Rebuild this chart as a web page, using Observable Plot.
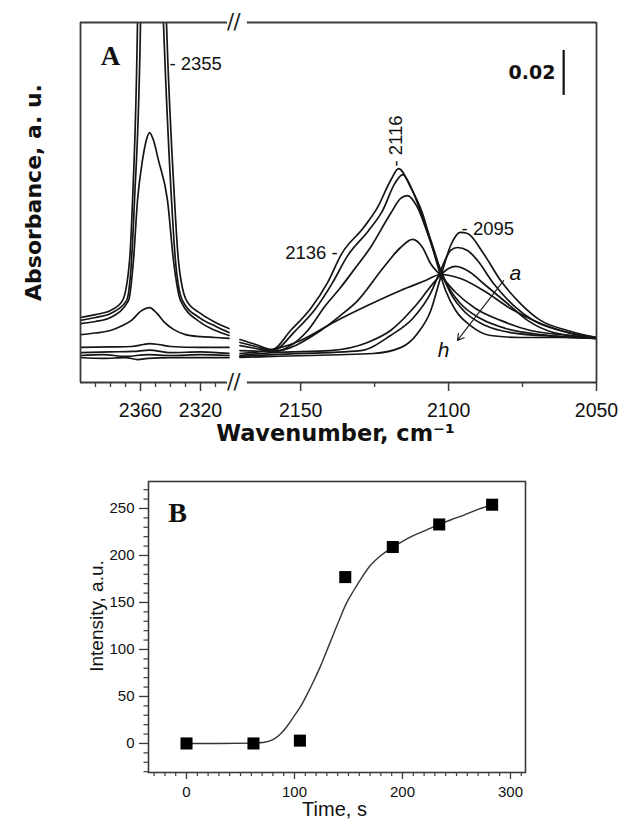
<!DOCTYPE html>
<html><head><meta charset="utf-8">
<script src="https://cdn.jsdelivr.net/npm/d3@7"></script>
<script src="https://cdn.jsdelivr.net/npm/@observablehq/plot@0.6"></script>
<style>
html,body{margin:0;padding:0;background:#fff;}
#chart{width:620px;height:828px;overflow:hidden;background:#fff;}
#chart svg{display:block;}
</style></head><body><div id="chart"></div>
<script>
// ---------- Panel A: IR spectra a..h, wavenumber (cm-1) vs absorbance (milli a.u.) ----------
const curveNames = ["a","b","c","d","e","f","g","h"];
// CO2 region (left part of the broken axis)
const co2_a = [[2400,-0.9],[2385,-1.3],[2370,-0.9],[2362,-1.8],[2355,-1.3],[2340,-0.9],[2320,-0.9],[2301,-0.9]];
const co2_b = [[2400,0],[2385,0.4],[2370,-0.4],[2355,0.4],[2340,0],[2320,0.4],[2301,0]];
const co2_c = [[2400,1.3],[2380,1.6],[2365,1.8],[2354,2.4],[2340,1.3],[2320,1.6],[2301,0.9]];
const co2_d = [[2400,3.6],[2380,3.8],[2366,4],[2358,4.9],[2354,5.3],[2348,4.9],[2340,4],[2320,3.6],[2301,3.6]];
const co2_e = [[2400,9.3],[2390,10],[2380,11.1],[2372,13.3],[2366,15.6],[2360,19.6],[2354,21.3],[2349,18.7],[2344,14.7],[2338,11.6],[2330,9.3],[2320,8.4],[2310,8],[2301,7.6]];
const co2_f = [[2400,14.2],[2390,15.1],[2380,16.9],[2368,24.4],[2364.7,42.2],[2362,68.9],[2358.7,86.7],[2356,96],[2354,99.1],[2351.5,96],[2348,86.7],[2342,68.9],[2338,42.2],[2333.3,24.4],[2320,14.7],[2310,11.1],[2301,8.9]];
const co2_g = [[2400,15.6],[2390,16.9],[2380,18.7],[2369.3,24.4],[2366,42.2],[2364,68.9],[2360,148],[2358.5,250],[2354,380],[2349.5,250],[2344.7,148],[2339.3,68.9],[2336.7,42.2],[2332,24.4],[2320,16.5],[2310,13],[2301,10.2]];
const co2_h = [[2400,16.9],[2390,18.2],[2380,20],[2372,24.4],[2367.3,42.2],[2365.3,68.9],[2362,148],[2360,260],[2354,420],[2347,260],[2342.7,148],[2337.3,68.9],[2334.7,42.2],[2329.3,24.4],[2320,18.7],[2310,14.7],[2301,12]];
// CO region (right part of the broken axis)
const co_a = [[2170.5,-0.9],[2159.5,-0.4],[2125.5,0.9],[2116,3.6],[2110.5,9.8],[2106,20],[2102.7,34.7],[2099.3,48.9],[2096,54.7],[2093.6,54.2],[2088.2,45.3],[2082.4,33.3],[2075.7,23.1],[2068.9,15.6],[2059.8,11.1],[2050,8]];
const co_b = [[2170.5,-0.4],[2159.5,0.4],[2129.7,2.2],[2119.6,8.9],[2111.8,16.9],[2106.1,27.6],[2102.7,37.8],[2099.3,46.7],[2097,48],[2093.6,46.7],[2090.2,42.2],[2084.8,32],[2078,22.2],[2071.3,15.6],[2062.2,11.1],[2050,8]];
const co_c = [[2170.5,0],[2159.5,1.3],[2139.9,2.2],[2127.4,5.8],[2119.6,11.1],[2111.1,22.2],[2104.4,33.3],[2100,38.7],[2097.6,39.6],[2092.6,36.9],[2088.2,32],[2080.1,23.1],[2073.3,15.6],[2064.5,10.2],[2050,7.6]];
const co_d = [[2170.5,0.9],[2157.8,3.1],[2150,6.7],[2138.9,14.7],[2127.4,22.2],[2116.2,28.9],[2107.8,33.3],[2102.7,36],[2096,34.2],[2088.2,28.9],[2079.1,20.9],[2068.9,14.2],[2058.8,9.8],[2050,7.6]];
const co_e = [[2170.5,2.2],[2159.5,1.8],[2143.2,11.1],[2136.5,17.8],[2130.7,24.4],[2122,39.1],[2116.2,48],[2112.2,51.6],[2108.8,48],[2106.1,40.9],[2102.7,35.6],[2097.6,28],[2090.9,20.9],[2082.4,15.6],[2072.3,11.1],[2058.8,8.9],[2050,7.6]];
const co_f = [[2170.5,4.4],[2165.2,3.1],[2159.5,1.8],[2147.6,11.1],[2141.6,22.2],[2136.5,30.2],[2131.4,39.1],[2126.4,48],[2119.6,63.1],[2116.2,69.8],[2113.9,71.1],[2110.5,65.8],[2107.1,54.2],[2103.7,41.3],[2100.3,31.1],[2096,23.1],[2089.2,16.4],[2080.7,12],[2068.9,9.3],[2050,7.6]];
const co_g = [[2170.5,5.8],[2165.2,4],[2159.5,2.2],[2151.7,11.1],[2144.9,20.9],[2139.2,32.4],[2134.1,44.4],[2127,55.6],[2122.3,64.4],[2118.2,76.4],[2115.5,80.4],[2112.2,73.3],[2108.4,60],[2105.4,48.9],[2102.7,37.8],[2099.3,27.6],[2094.3,19.1],[2087.5,13.3],[2079.1,10.2],[2062.2,8.4],[2050,7.6]];
const co_h = [[2170.5,7.1],[2165.2,4.9],[2159.5,2.7],[2153.4,11.1],[2146.6,20.9],[2140.9,32.4],[2136.1,45.3],[2128.7,56.9],[2124,65.8],[2119.6,77.8],[2116.9,83.1],[2112.8,74.7],[2108.8,63.1],[2106.1,51.1],[2103.7,40],[2101,28.9],[2097.6,20],[2092.6,13.3],[2085.8,8.9],[2075.7,8],[2062.2,8],[2050,7.6]];

// broken wavenumber axis: two segments
const segLeft = [2400, 2300];
const segRight = [2171, 2050];
const absDomain = [-12, 148];
const waveMajorTicks = [2360, 2320, 2150, 2100, 2050];
const waveMinorTicks = [2390, 2380, 2370, 2350, 2340, 2330, 2310, 2125, 2075];

// annotations (wavenumber, absorbance)
const peakLabelsStart = [{w: 2340.7, A: 129.3, text: "- 2355"}, {w: 2095.6, A: 56, text: "- 2095"}];
const peakLabelsEnd = [{w: 2137.5, A: 45.3, text: "2136 -"}];
const peakLabelsVertical = [{w: 2117.6, A: 84, text: "- 2116"}];
const seriesLetters = [{w: 2077.4, A: 36.4, text: "a"}, {w: 2101.7, A: 2.2, text: "h"}];
const seriesArrow = [{w1: 2081.4, A1: 33.3, w2: 2097, A2: 6.7}];
const scaleBar = [{w: 2061.1, A1: 115.6, A2: 135.6, label: "0.02"}];

// ---------- Panel B: intensity vs time ----------
const timeS = [0, 62, 105, 147, 191, 234, 283];
const intensity = [0, 0, 3, 177, 209, 233, 254];
const fitTime = [0, 30, 60, 71, 80, 87, 93, 99, 106, 112, 118, 124, 130, 136, 142, 148, 155, 162, 170, 180, 190, 200, 210, 222, 234, 245, 257, 270, 283];
const fitIntensity = [0, 0, 0.3, 1, 4, 10, 18, 28, 40, 53, 67, 82, 99, 116, 133, 149, 163, 176, 189, 200, 208, 215, 221, 227, 233, 238, 243, 249, 254];
const timeTicks = [0, 100, 200, 300];
const intensityTicks = [0, 50, 100, 150, 200, 250];

// ---------- build tables ----------
const co2 = {a: co2_a, b: co2_b, c: co2_c, d: co2_d, e: co2_e, f: co2_f, g: co2_g, h: co2_h};
const co = {a: co_a, b: co_b, c: co_c, d: co_d, e: co_e, f: co_f, g: co_g, h: co_h};
const specRows = [];
for (const n of curveNames) {
  for (const [w, A] of co2[n]) specRows.push({w, A, key: n + "-CO2"});
  for (const [w, A] of co[n]) specRows.push({w, A, key: n + "-CO"});
}
const frameColor = "#3a3a3a";
const hFrame = [
  {y: absDomain[1], x1: segLeft[0], x2: 2302}, {y: absDomain[1], x1: 2168, x2: segRight[1]},
  {y: absDomain[0], x1: segLeft[0], x2: 2302}, {y: absDomain[0], x1: 2168, x2: segRight[1]}
];
const vFrame = [{x: segLeft[0]}, {x: segRight[1]}];
const breakSlashes = [
  {w: 2300, A: absDomain[1]}, {w: 2195, A: absDomain[1]},
  {w: 2300, A: absDomain[0]}, {w: 2195, A: absDomain[0]}
];

const sans = "'Liberation Sans', Arial, Helvetica, sans-serif";
const wide = "'DejaVu Sans', Verdana, sans-serif";
const serif = "'Liberation Serif', 'Times New Roman', serif";

const plotA = Plot.plot({
  width: 620, height: 455,
  marginLeft: 80, marginRight: 24, marginTop: 22, marginBottom: 73,
  style: {fontFamily: sans, background: "#fff", color: "#111", overflow: "visible"},
  x: {type: "linear", domain: [segLeft[0], segLeft[1], segRight[0], segRight[1]], range: [80, 230, 238, 596], label: null},
  y: {domain: absDomain, axis: null, label: null},
  marks: [
    Plot.line(specRows, {x: "w", y: "A", z: "key", stroke: "#151515", strokeWidth: 1.7, curve: "monotone-x", clip: true}),
    Plot.ruleY(hFrame, {y: "y", x1: "x1", x2: "x2", stroke: frameColor, strokeWidth: 1.8}),
    Plot.ruleX(vFrame, {x: "x", y1: absDomain[0], y2: absDomain[1], stroke: frameColor, strokeWidth: 1.8}),
    Plot.text(breakSlashes, {x: "w", y: "A", text: () => "/", fontSize: 21, fontFamily: wide, fill: "#222"}),
    Plot.axisX(waveMajorTicks, {tickSize: 9, tickPadding: 12, fontSize: 19.5, stroke: frameColor, strokeWidth: 1.5, tickFormat: d => String(d), label: null}),
    Plot.axisX(waveMinorTicks, {tickSize: 5, stroke: frameColor, strokeWidth: 1.3, tickFormat: () => "", label: null}),
    Plot.text(peakLabelsStart, {x: "w", y: "A", text: "text", textAnchor: "start", fontSize: 18.5, fill: "#111"}),
    Plot.text(peakLabelsEnd, {x: "w", y: "A", text: "text", textAnchor: "end", fontSize: 18.5, fill: "#111"}),
    Plot.text(peakLabelsVertical, {x: "w", y: "A", text: "text", textAnchor: "start", rotate: -90, fontSize: 18.5, fill: "#111"}),
    Plot.text(seriesLetters, {x: "w", y: "A", text: "text", fontSize: 21, fontStyle: "italic", fill: "#111"}),
    Plot.arrow(seriesArrow, {x1: "w1", y1: "A1", x2: "w2", y2: "A2", stroke: "#222", strokeWidth: 1.2, headLength: 9}),
    Plot.ruleX(scaleBar, {x: "w", y1: "A1", y2: "A2", stroke: "#111", strokeWidth: 2.2}),
    Plot.text(scaleBar, {x: d => d.w + 2.8, y: d => (d.A1 + d.A2) / 2, text: "label", textAnchor: "end", fontSize: 19, fontWeight: "bold", fontFamily: wide, fill: "#111"}),
    Plot.text(["A"], {x: 2380, y: 133, text: d => d, fontSize: 27, fontWeight: "bold", fontFamily: serif, fill: "#111"}),
    Plot.text(["Absorbance, a. u."], {frameAnchor: "left", textAnchor: "middle", dx: -47, dy: -10, rotate: -90, fontSize: 22, fontWeight: "bold", fontFamily: wide, fill: "#111"}),
    Plot.text(["Wavenumber, cm⁻¹"], {frameAnchor: "bottom", textAnchor: "middle", dx: -3, dy: 58, fontSize: 22.5, fontWeight: "bold", fontFamily: wide, fill: "#111"})
  ]
});

const points = timeS.map((t, i) => ({t, I: intensity[i]}));
const fit = fitTime.map((t, i) => ({t, I: fitIntensity[i]}));
const timeMinor = d3.range(-30, 311, 10).filter(d => !timeTicks.includes(d));
const intensityMinor = d3.range(-30, 271, 10).filter(d => !intensityTicks.includes(d));

const plotB = Plot.plot({
  width: 620, height: 373,
  marginLeft: 148, marginRight: 95, marginTop: 26, marginBottom: 56,
  style: {fontFamily: sans, background: "#fff", color: "#111", overflow: "visible"},
  x: {domain: [-35.2, 313.9], label: null},
  y: {domain: [-30.9, 278.7], label: null},
  marks: [
    Plot.frame({stroke: frameColor, strokeWidth: 1.6}),
    Plot.axisY(intensityTicks, {tickSize: 9, tickPadding: 5, fontSize: 15, stroke: frameColor, strokeWidth: 1.3, tickFormat: d => String(d), label: null}),
    Plot.axisY(intensityMinor, {tickSize: 4.5, stroke: frameColor, strokeWidth: 1.2, tickFormat: () => "", label: null}),
    Plot.axisX(timeTicks, {tickSize: 7, tickPadding: 7, fontSize: 15, stroke: frameColor, strokeWidth: 1.3, tickFormat: d => String(d), label: null}),
    Plot.axisX(timeMinor, {tickSize: 4, stroke: frameColor, strokeWidth: 1.2, tickFormat: () => "", label: null}),
    Plot.line(fit, {x: "t", y: "I", stroke: "#333", strokeWidth: 1.4, curve: "monotone-x"}),
    Plot.dot(points, {x: "t", y: "I", symbol: "square", r: 6.8, fill: "#000", stroke: "none"}),
    Plot.text(["B"], {x: -8.3, y: 244.7, text: d => d, fontSize: 28, fontWeight: "bold", fontFamily: serif, fill: "#111"}),
    Plot.text(["Intensity, a.u."], {frameAnchor: "left", textAnchor: "middle", dx: -52, dy: -11, rotate: -90, fontSize: 19, fill: "#111"}),
    Plot.text(["Time, s"], {frameAnchor: "bottom", textAnchor: "middle", dx: -2.5, dy: 43, fontSize: 20, fill: "#111"})
  ]
});

const root = document.getElementById("chart");
root.appendChild(plotA);
root.appendChild(plotB);
</script>
</body></html>
